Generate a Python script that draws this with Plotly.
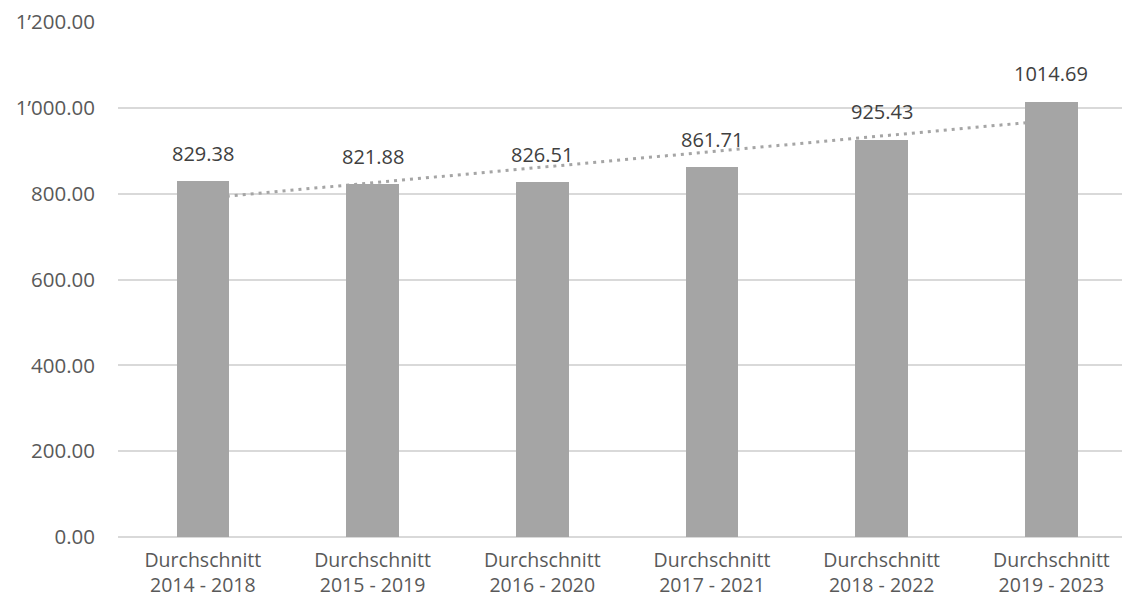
import numpy as np
import plotly.graph_objects as go

categories = ["Durchschnitt<br>2014 - 2018", "Durchschnitt<br>2015 - 2019", "Durchschnitt<br>2016 - 2020",
              "Durchschnitt<br>2017 - 2021", "Durchschnitt<br>2018 - 2022", "Durchschnitt<br>2019 - 2023"]
values = [829.38, 821.88, 826.51, 861.71, 925.43, 1014.69]
y_ticks = [0, 200, 400, 600, 800, 1000, 1200]

x = list(range(len(values)))
slope, intercept = np.polyfit(x, values, 1)

FONT = "Open Sans"
fig = go.Figure()
fig.add_trace(go.Bar(x=x, y=values, width=0.31, marker=dict(color="#A5A5A5", line=dict(width=0)),
                     hoverinfo="y"))

fig.add_shape(type="line", xref="x", yref="y", x0=x[0], x1=x[-1],
              y0=intercept + slope * x[0], y1=intercept + slope * x[-1],
              line=dict(color="#A5A5A5", width=3, dash="3px,5px"), layer="between")

for xi, v in zip(x, values):
    fig.add_annotation(x=xi, y=v, text=f"{v:.2f}", showarrow=False, yanchor="middle", yshift=28,
                       font=dict(family=FONT, size=20, color="#404040"))

fig.update_layout(
    width=1122, height=602, margin=dict(l=118, r=0, t=22, b=65),
    plot_bgcolor="white", paper_bgcolor="white", showlegend=False,
    separators=".’", bargap=0,
    font=dict(family=FONT, size=19, color="#595959"),
)
fig.update_xaxes(range=[-0.5, 5.416], tickvals=x, ticktext=categories, showgrid=False,
                 showline=False, zeroline=False, ticks="", ticklabelstandoff=9,
                 tickfont=dict(size=19.5, color="#595959"))
fig.update_yaxes(range=[0, 1200], tickvals=y_ticks, tickformat=",.2f", showgrid=True, gridcolor="#D9D9D9",
                 gridwidth=1.5, zeroline=True, zerolinecolor="#D9D9D9", zerolinewidth=1.5, showline=False,
                 ticks="", ticklabelstandoff=22, tickfont=dict(size=20.5, color="#595959"))
fig.write_html("out.html")
